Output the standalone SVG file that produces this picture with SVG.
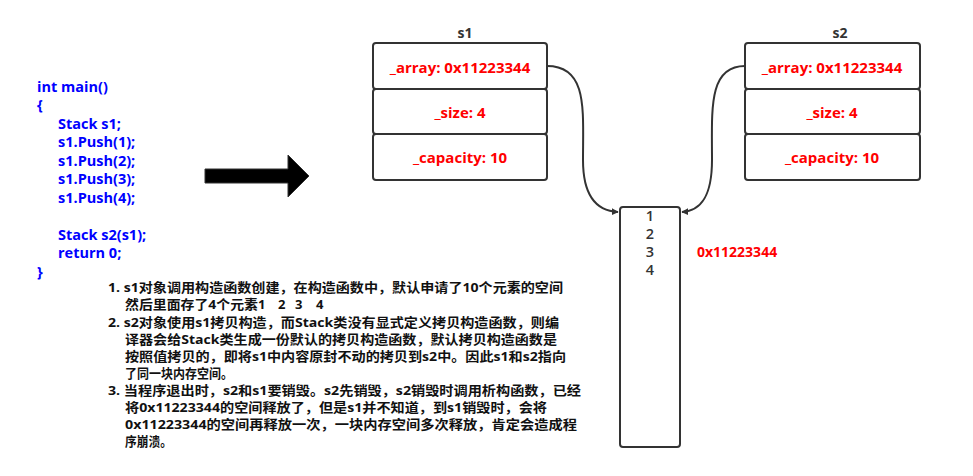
<svg xmlns="http://www.w3.org/2000/svg" width="973" height="476" viewBox="0 0 973 476">
<defs>
<style>
.code{font-family:"Open Sans","Noto Sans CJK SC",sans-serif;font-weight:bold;font-size:14.5px;fill:#0000ff}
.box{fill:#fff;stroke:#333;stroke-width:2}
.fld{font-family:"Open Sans","Noto Sans CJK SC",sans-serif;font-weight:bold;font-size:15px;fill:#ff0000;text-anchor:middle}
.lbl{font-family:"Open Sans","Noto Sans CJK SC",sans-serif;font-weight:bold;font-size:14px;fill:#333;text-anchor:middle}
.num{font-family:"Open Sans","Noto Sans CJK SC",sans-serif;font-weight:600;font-size:14.5px;fill:#333;text-anchor:middle}
.note{font-family:"Open Sans","Noto Sans CJK SC",sans-serif;font-weight:bold;font-size:13px;fill:#111}
.conn{fill:none;stroke:#333;stroke-width:2}
</style>
<marker id="ah" viewBox="0 0 10 10" refX="9" refY="5" markerWidth="7" markerHeight="7" markerUnits="userSpaceOnUse" orient="auto">
<path d="M0,0 L10,5 L0,10 Z" fill="#333"/>
</marker>
</defs>
<rect width="973" height="476" fill="#fff"/>
<g id="code">
<text class="code" x="37" y="92">int main()</text>
<text class="code" x="37" y="110">{</text>
<text class="code" x="58" y="129">Stack s1;</text>
<text class="code" x="58" y="147">s1.Push(1);</text>
<text class="code" x="58" y="166">s1.Push(2);</text>
<text class="code" x="58" y="184">s1.Push(3);</text>
<text class="code" x="58" y="203">s1.Push(4);</text>
<text class="code" x="58" y="240">Stack s2(s1);</text>
<text class="code" x="58" y="258">return 0;</text>
<text class="code" x="37" y="277">}</text>
</g>
<g id="bigarrow">
<path d="M205,169 L288,169 L288,155 L309,176 L288,197 L288,183 L205,183 Z" fill="#000" stroke="#333" stroke-width="1"/>
</g>
<g id="s1">
<text class="lbl" x="465" y="38">s1</text>
<rect class="box" x="373" y="43" width="174" height="46" rx="3"/>
<rect class="box" x="373" y="89" width="174" height="45" rx="3"/>
<rect class="box" x="373" y="134" width="174" height="46" rx="3"/>
<text class="fld" x="460" y="73">_array: 0x11223344</text>
<text class="fld" x="460" y="118">_size: 4</text>
<text class="fld" x="460" y="163">_capacity: 10</text>
</g>
<g id="s2">
<text class="lbl" x="840" y="38">s2</text>
<rect class="box" x="745" y="43" width="175" height="46" rx="3"/>
<rect class="box" x="745" y="89" width="175" height="45" rx="3"/>
<rect class="box" x="745" y="134" width="175" height="46" rx="3"/>
<text class="fld" x="832" y="73">_array: 0x11223344</text>
<text class="fld" x="832" y="118">_size: 4</text>
<text class="fld" x="832" y="163">_capacity: 10</text>
</g>
<g id="memory">
<rect class="box" x="620" y="207" width="60" height="240" rx="3"/>
<text class="num" x="650" y="221">1</text>
<text class="num" x="650" y="239">2</text>
<text class="num" x="650" y="257">3</text>
<text class="num" x="650" y="275">4</text>
<text x="697" y="257" style="font-family:'Open Sans','Noto Sans CJK SC',sans-serif;font-weight:bold;font-size:14px;fill:#ff0000">0x11223344</text>
</g>
<g id="connectors">
<path class="conn" d="M547,66 C588,66 583,110 583,160 C583,198 598,211 618,212" marker-end="url(#ah)"/>
<path class="conn" d="M745,66 C708,66 712,110 712,160 C712,198 700,211 682,212" marker-end="url(#ah)"/>
</g>
<g id="notes">
<text class="note" x="108" y="292" textLength="455" lengthAdjust="spacingAndGlyphs">1. s1对象调用构造函数创建，在构造函数中，默认申请了10个元素的空间</text>
<text class="note" x="125" y="309"><tspan textLength="133" lengthAdjust="spacingAndGlyphs">然后里面存了4个元素</tspan><tspan x="258">1</tspan><tspan x="278">2</tspan><tspan x="295">3</tspan><tspan x="316">4</tspan></text>
<text class="note" x="108" y="327" textLength="451" lengthAdjust="spacingAndGlyphs">2. s2对象使用s1拷贝构造，而Stack类没有显式定义拷贝构造函数，则编</text>
<text class="note" x="125" y="344" textLength="432" lengthAdjust="spacingAndGlyphs">译器会给Stack类生成一份默认的拷贝构造函数，默认拷贝构造函数是</text>
<text class="note" x="125" y="361" textLength="441" lengthAdjust="spacingAndGlyphs">按照值拷贝的，即将s1中内容原封不动的拷贝到s2中。因此s1和s2指向</text>
<text class="note" x="125" y="378" textLength="108" lengthAdjust="spacingAndGlyphs">了同一块内存空间。</text>
<text class="note" x="108" y="395" textLength="473" lengthAdjust="spacingAndGlyphs">3. 当程序退出时，s2和s1要销毁。s2先销毁，s2销毁时调用析构函数，已经</text>
<text class="note" x="125" y="412" textLength="422" lengthAdjust="spacingAndGlyphs">将0x11223344的空间释放了，但是s1并不知道，到s1销毁时，会将</text>
<text class="note" x="125" y="429" textLength="452" lengthAdjust="spacingAndGlyphs">0x11223344的空间再释放一次，一块内存空间多次释放，肯定会造成程</text>
<text class="note" x="125" y="446" textLength="47" lengthAdjust="spacingAndGlyphs">序崩溃。</text>
</g>
</svg>
